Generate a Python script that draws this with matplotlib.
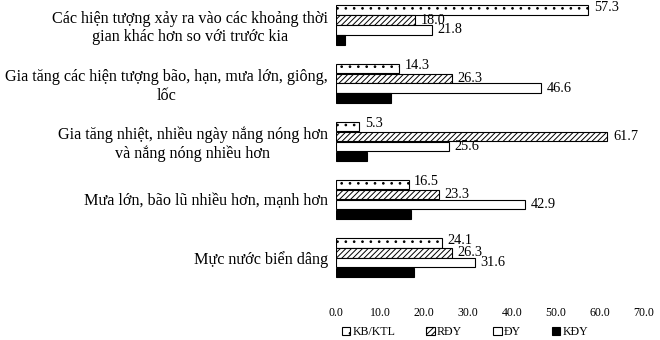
import matplotlib
matplotlib.use("Agg")
import matplotlib.pyplot as plt
import numpy as np

categories = [
    "Các hiện tượng xảy ra vào các khoảng thời\ngian khác hơn so với trước kia",
    "Gia tăng các hiện tượng bão, hạn, mưa lớn, giông,\nlốc",
    "Gia tăng nhiệt, nhiều ngày nắng nóng hơn\nvà nắng nóng nhiều hơn",
    "Mưa lớn, bão lũ nhiều hơn, mạnh hơn",
    "Mực nước biển dâng",
]
series_names = ["KB/KTL", "RĐY", "ĐY", "KĐY"]
kb_ktl = [57.3, 14.3, 5.3, 16.5, 24.1]
rdy = [18.0, 26.3, 61.7, 23.3, 26.3]
dy = [21.8, 46.6, 25.6, 42.9, 31.6]
kdy = [2.0, 12.5, 7.0, 17.0, 17.7]
show_label = [True, True, True, False]
label_dy = [2, 0, 0, 0]
xticks = [0, 10, 20, 30, 40, 50, 60, 70]

plt.rcParams['font.family'] = ['Liberation Serif', 'DejaVu Serif']
plt.rcParams['hatch.linewidth'] = 0.7

W, H = 660, 340
fig = plt.figure(figsize=(W / 100, H / 100), dpi=100)
ax_left, ax_right = 336, 644
ax_top, ax_bot = 0, 290
ax = fig.add_axes([ax_left / W, 1 - ax_bot / H, (ax_right - ax_left) / W, (ax_bot - ax_top) / H])

spacing = 58.2
c0 = 25
ytop = -c0 / spacing
ybot = 4 + (ax_bot - (c0 + 4 * spacing)) / spacing

h = 0.17
y = np.arange(len(categories))
styles = [
    dict(facecolor="white", hatch=".."),
    dict(facecolor="white", hatch="//////"),
    dict(facecolor="white", hatch=""),
    dict(facecolor="black", hatch=""),
]
all_vals = [kb_ktl, rdy, dy, kdy]
for i, (vals, name, st) in enumerate(zip(all_vals, series_names, styles)):
    pos = y + (i - 1.5) * h
    ax.barh(pos, vals, height=h * 0.95, edgecolor="black", linewidth=0.8,
            label=name, **st)
    if show_label[i]:
        for v, p in zip(vals, pos):
            ax.annotate(f"{v:.1f}", xy=(v, p), xytext=(4, label_dy[i]), textcoords="offset points",
                        va="center", ha="left", fontsize=10.3, annotation_clip=False)

ax.set_xlim(0, 70)
ax.set_ylim(ybot, ytop)
ax.set_xticks(xticks)
ax.set_xticklabels([f"{t:.1f}" for t in xticks], fontsize=8.6)
ax.set_yticks(y)
ax.set_yticklabels(categories, fontsize=11.6, multialignment="center")
ax.tick_params(axis="both", length=0)
ax.tick_params(axis="x", pad=12)
ax.tick_params(axis="y", pad=6)
for s in ax.spines.values():
    s.set_visible(False)

leg = fig.legend(loc="center", bbox_to_anchor=(465 / W, 1 - 332 / H), ncol=4, frameon=False,
                 fontsize=8.6, handlelength=0.7, handleheight=0.7, handletextpad=0.2,
                 columnspacing=2.6)

fig.savefig("out.png", dpi=100)
